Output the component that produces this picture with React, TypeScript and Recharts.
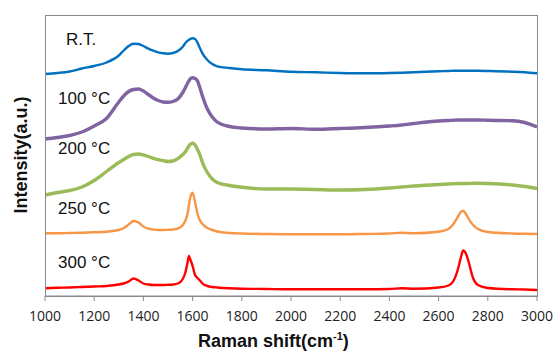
import React from 'react';
import { LineChart, Line, XAxis, YAxis } from 'recharts';

// Raman shift grid (cm-1)
const shift = [
  1000, 1050, 1100, 1150, 1200, 1250, 1300, 1320, 1340, 1360, 1380, 1400, 1420, 1440, 1460,
  1480, 1500, 1520, 1540, 1560, 1570, 1580, 1585, 1590, 1600, 1610, 1620, 1630, 1640, 1660,
  1680, 1700, 1750, 1800, 1900, 2000, 2100, 2200, 2300, 2400, 2450, 2500, 2600, 2640, 2660,
  2680, 2690, 2700, 2710, 2720, 2740, 2760, 2800, 2900, 2950, 3000,
];

// stacked intensities (a.u., offset per sample)
const rt = [
  222, 223, 224.5, 227.5, 230, 233.5, 240.5, 245.5, 250, 252.3, 252, 250, 247.3, 245.3, 243.7,
  242.7, 242.3, 243, 245, 249.3, 252.7, 255.3, 256.2, 257, 257.7, 257, 253.3, 247.7, 242.7, 236,
  232, 229.7, 228, 226.7, 225.7, 224.3, 223.7, 223, 222.7, 223, 223.3, 223.7, 224.7, 225, 225.2,
  225.3, 225.3, 225.3, 225.3, 225.3, 225.2, 225.2, 225, 224.3, 223.7, 222.7,
];
const t100 = [
  157, 158.5, 160.5, 164, 170, 177.5, 194, 200, 204.5, 206.5, 207, 205, 201.5, 198, 195.5,
  194, 193.7, 194.5, 197, 203.5, 208, 213, 215, 217, 218.3, 217.5, 215, 208, 200, 187,
  179, 174, 169.5, 168, 167, 167.5, 166.7, 167.5, 168.5, 170, 171, 172.5, 175, 175.5, 175.7,
  176, 176, 176, 176, 176, 176, 176, 175.7, 175.3, 173.5, 169,
];
const t200 = [
  101, 103.5, 105.5, 109, 115.5, 124.5, 133.5, 136.5, 139.5, 141.5, 142, 141, 139.5, 137.7, 136.3,
  135.3, 134.5, 135, 137.3, 141.5, 144, 148, 150, 151.5, 152.7, 151, 146.5, 141, 133.5, 123.5,
  117, 113.5, 110.5, 108.7, 107, 107, 106.5, 106, 106.5, 108, 109, 110, 111.5, 112, 112.2,
  112.5, 112.5, 112.5, 112.5, 112.5, 112.7, 112.7, 112.5, 111, 109.5, 107.5,
];
const t250 = [
  62.7, 62.7, 63, 63.3, 63.7, 64.3, 66, 68, 71.5, 75, 73.5, 69.5, 67.3, 66.5, 66,
  66, 66.2, 66.5, 67.3, 71, 75, 83, 91, 98, 103.3, 94, 82, 75.5, 72, 68,
  66, 64.5, 63, 62.5, 62, 61.7, 61.7, 61.7, 62, 62.5, 63.3, 62.7, 64.2, 67, 72,
  80, 84, 85.3, 82.5, 78, 71, 67, 64, 62.5, 62.2, 62,
];
const t300 = [
  7.7, 8.2, 8.5, 9, 9.5, 10, 11.5, 12.5, 14.5, 17.5, 15.5, 12.5, 11.5, 11, 11,
  11, 11.2, 11.5, 12.5, 17, 23, 34, 40, 37, 30, 21, 18, 15.5, 12.5, 10,
  9, 8.5, 7.7, 7.3, 7, 6.7, 6.7, 6.7, 6.7, 7, 7.7, 7.3, 8.5, 10.5, 15,
  28, 38, 45.5, 43, 36, 18, 11, 8, 6.7, 6.5, 6,
];

const xTicks = [1000, 1200, 1400, 1600, 1800, 2000, 2200, 2400, 2600, 2800, 3000];

const seriesLabels = [
  { text: 'R.T.', left: 66, top: 30 },
  { text: '100 °C', left: 58, top: 89 },
  { text: '200 °C', left: 58, top: 139 },
  { text: '250 °C', left: 58, top: 199 },
  { text: '300 °C', left: 58, top: 253 },
];

const table = shift.map((x, i) => ({
  x,
  rt: rt[i],
  t100: t100[i],
  t200: t200[i],
  t250: t250[i],
  t300: t300[i],
}));

const App = () => {
  return (
    <div style={{ position: 'absolute', left: 0, top: 0, width: 554, height: 352, background: '#fff' }}>
      <LineChart
        width={554}
        height={352}
        data={table}
        margin={{ top: 15, right: 17, left: 45, bottom: 26 }}
      >
        <XAxis
          dataKey="x"
          type="number"
          domain={[1000, 3000]}
          ticks={xTicks}
          height={30}
          tickSize={5}
          tickMargin={10}
          stroke="#8a8a8a"
          tick={{ fontSize: 14, fill: '#222', fontFamily: '"Open Sans", sans-serif' }}
        />
        <YAxis hide domain={[0, 281]} />
        <Line dataKey="rt" type="monotone" stroke="#0070C0" strokeWidth={2.4} dot={false} isAnimationActive={false} />
        <Line dataKey="t100" type="monotone" stroke="#8064A2" strokeWidth={3.4} dot={false} isAnimationActive={false} />
        <Line dataKey="t200" type="monotone" stroke="#9BBB59" strokeWidth={3.4} dot={false} isAnimationActive={false} />
        <Line dataKey="t250" type="monotone" stroke="#F79646" strokeWidth={2.4} dot={false} isAnimationActive={false} />
        <Line dataKey="t300" type="monotone" stroke="#FF0000" strokeWidth={2.4} dot={false} isAnimationActive={false} />
      </LineChart>

      {/* plot frame */}
      <div style={{ position: 'absolute', left: 45, top: 15, width: 491, height: 280, border: '1px solid #8a8a8a', pointerEvents: 'none' }} />

      {seriesLabels.map((l) => (
        <div
          key={l.text}
          style={{ position: 'absolute', left: l.left, top: l.top, fontSize: 17, lineHeight: '20px', color: '#111', fontFamily: '"Liberation Sans", Arial, sans-serif', whiteSpace: 'nowrap' }}
        >
          {l.text}
        </div>
      ))}

      <div style={{ position: 'absolute', left: 0, width: 550, top: 330, textAlign: 'center', fontSize: 18, fontWeight: 'bold', fontFamily: '"Liberation Sans", Arial, sans-serif', color: '#111', paddingLeft: 0 }}>
        <span style={{ position: 'absolute', left: 198, whiteSpace: 'nowrap' }}>
          Raman shift(cm<sup style={{ fontSize: 11 }}>-1</sup>)
        </span>
      </div>

      <div
        style={{ position: 'absolute', left: 21, top: 155, transform: 'translate(-50%, -50%) rotate(-90deg)', fontSize: 18, fontWeight: 'bold', fontFamily: '"Liberation Sans", Arial, sans-serif', color: '#111', whiteSpace: 'nowrap' }}
      >
        Intensity(a.u.)
      </div>
    </div>
  );
};

export default App;
